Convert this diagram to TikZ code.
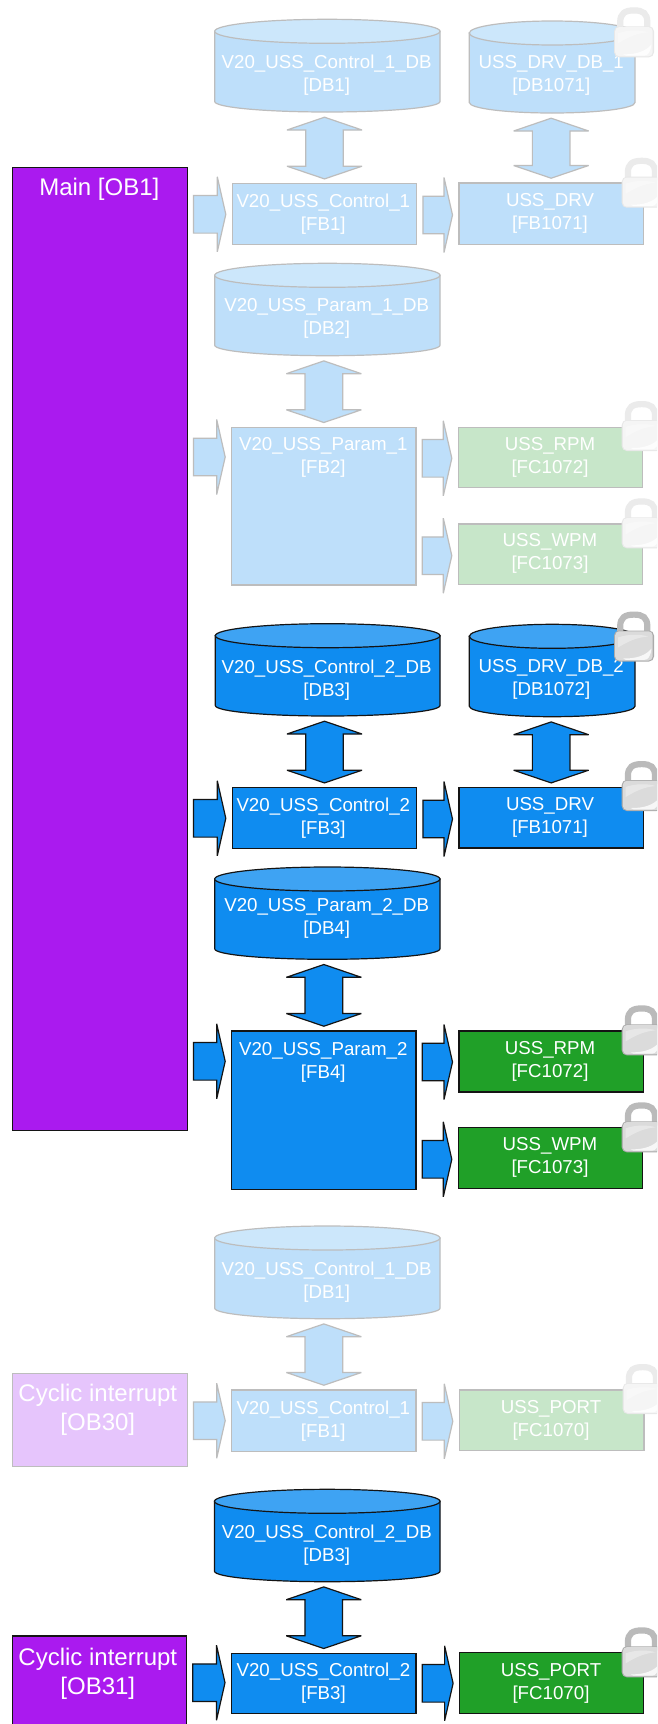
\documentclass[tikz,border=0pt]{standalone}
\usepackage{fontspec}
\setmainfont{Liberation Sans}
\usetikzlibrary{calc}
\definecolor{bluef}{HTML}{0F8CF0}
\definecolor{bluetop}{HTML}{3EA3F3}
\definecolor{palebluef}{HTML}{BEDFFA}
\definecolor{palebluetop}{HTML}{CCE7FB}
\definecolor{greenf}{HTML}{20A028}
\definecolor{palegreenf}{HTML}{C7E6C9}
\definecolor{purplef}{HTML}{AA1AEF}
\definecolor{palepurplef}{HTML}{E6C5FC}
\definecolor{palestroke}{HTML}{BDBDBD}
\definecolor{darkstroke}{HTML}{141414}
\tikzset{
  x=1pt,y=-1pt,
  dk/.style={draw=darkstroke,line width=1.2pt,line join=miter,miter limit=2},
  pl/.style={draw=palestroke,line width=1.2pt,line join=miter,miter limit=2},
  sblue/.style={dk,fill=bluef},
  pblue/.style={pl,fill=palebluef},
  stop/.style={dk,fill=bluetop},
  ptop/.style={pl,fill=palebluetop},
  sgreen/.style={dk,fill=greenf},
  pgreen/.style={pl,fill=palegreenf},
  spurple/.style={dk,fill=purplef},
  ppurple/.style={pl,fill=palepurplef},
  small/.style={text=white,inner sep=0pt,align=center,yshift=-2.2pt,font=\fontsize{18.7}{23}\selectfont},
  large/.style={text=white,inner sep=0pt,align=center,yshift=-2.2pt,font=\fontsize{24}{29}\selectfont},
  boxbase/.style={rectangle,inner sep=0pt,outer sep=0pt},
}
% box: name, style, x1,y1,x2,y2, text style, tx,ty, text
\newcommand{\bx}[9]{%
  \pgfmathsetmacro{\bw}{#5-#3}\pgfmathsetmacro{\bh}{#6-#4}%
  \pgfmathsetmacro{\bmx}{(#3+#5)/2}\pgfmathsetmacro{\bmy}{(#4+#6)/2}%
  \node[boxbase,#2,minimum width=\bw pt,minimum height=\bh pt] (#1) at (\bmx,\bmy) {};%
  \def\bxname{#1}\def\bxst{#7}\def\bxtx{#8}\def\bxty{#9}\bxfinal}
\newcommand{\bxfinal}[1]{\node[\bxst] (\bxname-t) at (\bxtx,\bxty) {#1};}
% cylinder: name, body style, top style, L, R, top, bottom, tx, ty + text
\newcommand{\cyl}[9]{%
  \pgfmathsetmacro{\cm}{(#4+#5)/2}\pgfmathsetmacro{\chw}{(#5-#4)/2}%
  \pgfmathsetmacro{\cmy}{(#6+#7)/2}\pgfmathsetmacro{\chh}{#7-#6}\pgfmathsetmacro{\cww}{#5-#4}%
  \pgfmathsetmacro{\ctc}{#6+12}\pgfmathsetmacro{\cbs}{#7-10.5}\pgfmathsetmacro{\cbc}{#7-4.5}%
  \pgfmathsetmacro{\cla}{#4+\chw*.45}\pgfmathsetmacro{\clb}{#5-\chw*.45}%
  \draw[#2] (#4,\ctc) -- (#4,\cbs) .. controls (#4,\cbc) and (\cla,#7) .. (\cm,#7)
     .. controls (\clb,#7) and (#5,\cbc) .. (#5,\cbs) -- (#5,\ctc) -- cycle;%
  \draw[#3] (\cm,\ctc) ellipse[x radius=\chw,y radius=12];%
  \node[rectangle,inner sep=0pt,outer sep=0pt,minimum width=\cww pt,minimum height=\chh pt] (#1) at (\cm,\cmy) {};%
  \def\bxname{#1}\def\bxst{small}\def\bxtx{#8}\def\bxty{#9}\bxfinal}
% right block arrow from node to node at height of tip
\newcommand{\rarr}[4]{%
  \draw[#4] let \p1=(#1.east),\p2=(#2.west),\p3=(0,#3) in
   (\x1+6.2pt,\y3+18.8pt) -- (\x2-15pt,\y3+18.8pt) -- (\x2-15pt,\y3+37.5pt) -- (\x2-6.5pt,\y3)
   -- (\x2-15pt,\y3-37.5pt) -- (\x2-15pt,\y3-18.8pt) -- (\x1+6.2pt,\y3-18.8pt) -- cycle;}
% vertical double block arrow between node and node
\newcommand{\darr}[3]{%
  \draw[#3] let \p1=(#1.south),\p2=(#2.north) in
   (\x2,\y1-5.2pt) -- (\x2+37.5pt,\y1-18pt) -- (\x2+18.8pt,\y1-18pt) -- (\x2+18.8pt,\y2+17.5pt)
   -- (\x2+37.5pt,\y2+17.5pt) -- (\x2,\y2+4.8pt) -- (\x2-37.5pt,\y2+17.5pt) -- (\x2-18.8pt,\y2+17.5pt)
   -- (\x2-18.8pt,\y1-18pt) -- (\x2-37.5pt,\y1-18pt) -- cycle;}
% lock: left x, top y, shackle colour, body edge colour, body colour
\newcommand{\lockshape}[5]{%
  \begin{scope}[shift={(#1,#2)}]
   \draw[line width=6.2pt,#3] (6.2,23) -- (6.2,15) .. controls (6.2,6) and (11,3.1) .. (20,3.1) .. controls (29,3.1) and (33.3,6) .. (33.3,15) -- (33.3,23);
   \fill[rounded corners=5pt,#4] (0,19) rectangle (40,50);
   \fill[rounded corners=4pt,#5] (1.2,19.8) rectangle (38.6,49);
   \fill[white,opacity=.8] (9,47) .. controls (22,47.3) and (32,44) .. (37.5,37) .. controls (36.5,45) and (34,48.4) .. (30,48.4) -- (12,48.4) -- cycle;
   \fill[white,opacity=.35] (4,36) -- (4,26) .. controls (14,22.5) and (26,22.5) .. (34,25) .. controls (22,26) and (14,30) .. (4,36) -- cycle;
  \end{scope}}
\newcommand{\lockdark}[2]{\lockshape{#1}{#2}{black!27}{black!33}{black!14}}
\newcommand{\lockpale}[2]{\lockshape{#1}{#2}{black!8}{black!9}{black!4}}
\begin{document}
\begin{tikzpicture}
\path[use as bounding box,clip] (0,0) rectangle (657,1724);
\fill[white] (0,0) rectangle (657,1724);

\bx{main}{spurple}{12.3}{167.7}{187.3}{1130.3}{large}{99.3}{187.3}{Main [OB1]}
\bx{ob30}{ppurple}{12.1}{1373.7}{187.3}{1466.7}{large}{97.8}{1408}{Cyclic interrupt\\{}[OB30]}
\bx{ob31}{spurple}{12.1}{1636}{186.6}{1740}{large}{97.8}{1671.3}{Cyclic interrupt\\{}[OB31]}

% group 1
\cyl{db1}{pblue}{ptop}{214.7}{440}{19.3}{112}{326.7}{73.3}{V20\_USS\_Control\_1\_DB\\{}[DB1]}
\cyl{db1071}{pblue}{ptop}{469.3}{635}{21}{113}{551.3}{73}{USS\_DRV\_DB\_1\\{}[DB1071]}
\bx{fb1}{pblue}{232.3}{183.7}{416.7}{244.3}{small}{323.3}{211.7}{V20\_USS\_Control\_1\\{}[FB1]}
\bx{drv1}{pblue}{459}{183}{643.3}{244.3}{small}{550}{211}{USS\_DRV\\{}[FB1071]}
\darr{db1}{fb1}{pblue}
\darr{db1071}{drv1}{pblue}
\rarr{main}{fb1}{214.3}{pblue}
\rarr{fb1}{drv1}{215}{pblue}
\lockpale{614}{7.3}
\lockpale{621.7}{157.7}

% group 2
\cyl{db2}{pblue}{ptop}{214.7}{440}{263.3}{355.7}{326.7}{316}{V20\_USS\_Param\_1\_DB\\{}[DB2]}
\bx{fb2}{pblue}{231.7}{427.3}{416}{585}{small}{323.3}{455.3}{V20\_USS\_Param\_1\\{}[FB2]}
\bx{rpm1}{pgreen}{458.3}{427.3}{642.7}{487.3}{small}{550}{455.3}{USS\_RPM\\{}[FC1072]}
\bx{wpm1}{pgreen}{458.3}{524}{642.7}{584.3}{small}{550}{551.5}{USS\_WPM\\{}[FC1073]}
\darr{db2}{fb2}{pblue}
\rarr{main}{fb2}{457}{pblue}
\rarr{fb2}{rpm1}{458.3}{pblue}
\rarr{fb2}{wpm1}{555.7}{pblue}
\lockpale{621.7}{401}
\lockpale{621.7}{498.3}

% group 3
\cyl{db3}{sblue}{stop}{215.3}{440}{623.7}{716}{326.7}{677.6}{V20\_USS\_Control\_2\_DB\\{}[DB3]}
\cyl{db1072}{sblue}{stop}{469.3}{635}{624.3}{716.7}{551.3}{677}{USS\_DRV\_DB\_2\\{}[DB1072]}
\bx{fb3}{sblue}{232.3}{787.7}{416.7}{848.3}{small}{323.3}{815.7}{V20\_USS\_Control\_2\\{}[FB3]}
\bx{drv2}{sblue}{459}{787.7}{643.3}{848}{small}{550}{815}{USS\_DRV\\{}[FB1071]}
\darr{db3}{fb3}{sblue}
\darr{db1072}{drv2}{sblue}
\rarr{main}{fb3}{818.3}{sblue}
\rarr{fb3}{drv2}{819}{sblue}
\lockdark{614}{611.5}
\lockdark{621.7}{761}

% group 4
\cyl{db4}{sblue}{stop}{214.7}{440}{867}{959.3}{326.7}{916}{V20\_USS\_Param\_2\_DB\\{}[DB4]}
\bx{fb4}{sblue}{231.7}{1031}{416}{1189.3}{small}{323.3}{1060}{V20\_USS\_Param\_2\\{}[FB4]}
\bx{rpm2}{sgreen}{459}{1031}{643.3}{1092}{small}{550}{1059}{USS\_RPM\\{}[FC1072]}
\bx{wpm2}{sgreen}{458.3}{1127.3}{642.7}{1188.7}{small}{550}{1155.5}{USS\_WPM\\{}[FC1073]}
\darr{db4}{fb4}{sblue}
\rarr{main}{fb4}{1061.3}{sblue}
\rarr{fb4}{rpm2}{1062}{sblue}
\rarr{fb4}{wpm2}{1159.3}{sblue}
\lockdark{621.7}{1005.3}
\lockdark{621.7}{1102.3}

% group 5
\cyl{db1b}{pblue}{ptop}{214.7}{440}{1226}{1318.7}{326.7}{1280.3}{V20\_USS\_Control\_1\_DB\\{}[DB1]}
\bx{fb1b}{pblue}{231.7}{1390}{416}{1451.3}{small}{323.3}{1419.3}{V20\_USS\_Control\_1\\{}[FB1]}
\bx{port1}{pgreen}{459.3}{1390}{644}{1450.7}{small}{551}{1418}{USS\_PORT\\{}[FC1070]}
\darr{db1b}{fb1b}{pblue}
\rarr{ob30}{fb1b}{1420.7}{pblue}
\rarr{fb1b}{port1}{1421.3}{pblue}
\lockpale{622.7}{1364}

% group 6
\cyl{db3b}{sblue}{stop}{214.5}{440}{1489.3}{1581.7}{326.8}{1542.8}{V20\_USS\_Control\_2\_DB\\{}[DB3]}
\bx{fb3b}{sblue}{231.5}{1653.3}{416}{1713.7}{small}{323.4}{1681.3}{V20\_USS\_Control\_2\\{}[FB3]}
\bx{port2}{sgreen}{459.6}{1652.7}{643.5}{1713.7}{small}{551}{1680.7}{USS\_PORT\\{}[FC1070]}
\darr{db3b}{fb3b}{sblue}
\rarr{ob31}{fb3b}{1682.7}{sblue}
\rarr{fb3b}{port2}{1683.3}{sblue}
\lockdark{621.7}{1627.3}
\end{tikzpicture}
\end{document}
